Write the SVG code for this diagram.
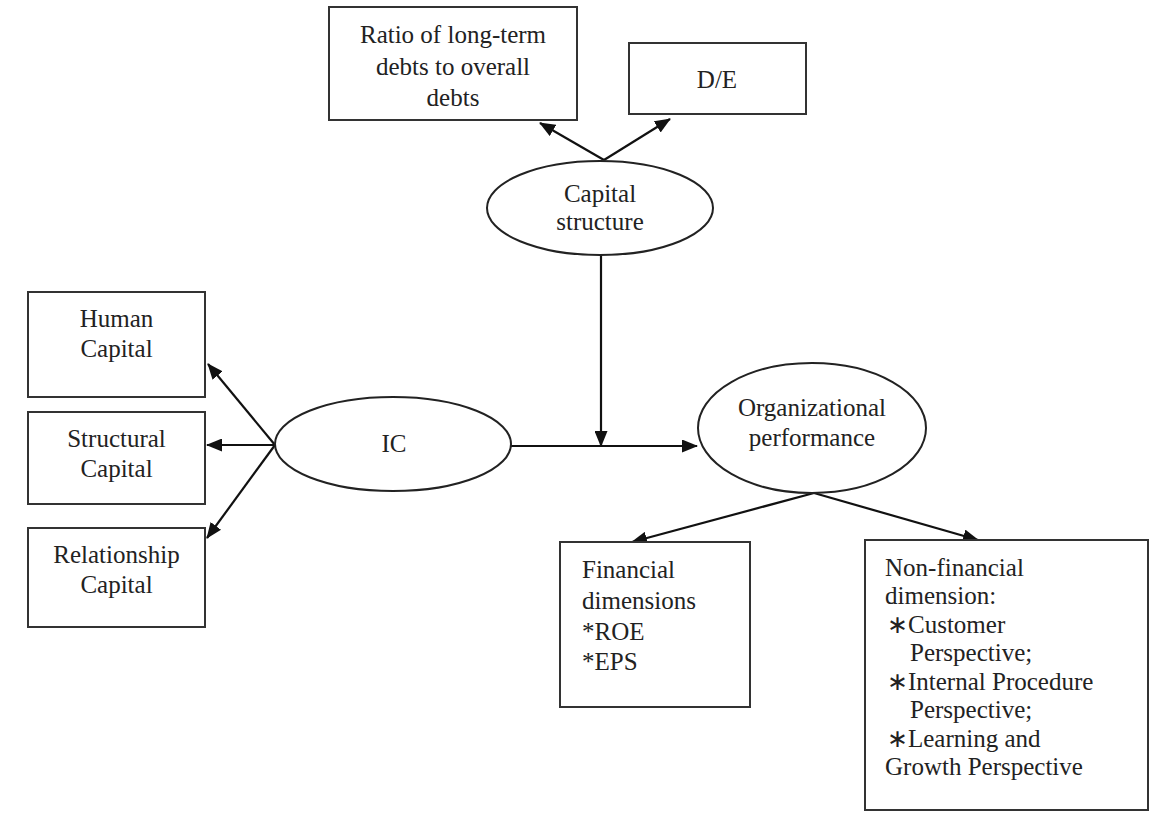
<svg xmlns="http://www.w3.org/2000/svg" width="1153" height="822" viewBox="0 0 1153 822">
<style>
.box{fill:#fff;stroke:#333;stroke-width:2}
.ell{fill:#fff;stroke:#222;stroke-width:2}
.t{font-family:"Liberation Serif","Times New Roman",serif;font-size:25px;fill:#222}
.c{text-anchor:middle}
.ln{fill:none;stroke:#111;stroke-width:2.2;marker-end:url(#ah)}
</style>
<defs>
<marker id="ah" markerUnits="userSpaceOnUse" viewBox="0 0 16 13" refX="15" refY="6.5" markerWidth="16" markerHeight="13" orient="auto">
<path d="M0,0 L16,6.5 L0,13 z" fill="#111"/>
</marker>
</defs>
<rect width="1153" height="822" fill="#fff"/>
<g id="connectors">
<line class="ln" x1="604" y1="160" x2="540" y2="123"/>
<line class="ln" x1="604" y1="160" x2="670" y2="119"/>
<line class="ln" x1="601" y1="255" x2="601" y2="446"/>
<line class="ln" x1="511" y1="446" x2="697" y2="446"/>
<line class="ln" x1="275" y1="445" x2="208" y2="364"/>
<line class="ln" x1="275" y1="445" x2="207" y2="445"/>
<line class="ln" x1="275" y1="445" x2="207" y2="538"/>
<line class="ln" x1="814" y1="493" x2="632" y2="542"/>
<line class="ln" x1="814" y1="493" x2="978" y2="540"/>
</g>
<g id="ratio">
<rect class="box" x="329" y="7" width="248" height="113"/>
<text class="t c" x="453" y="43">Ratio of long-term</text>
<text class="t c" x="453" y="75">debts to overall</text>
<text class="t c" x="453" y="106">debts</text>
</g>
<g id="de">
<rect class="box" x="629" y="43" width="177" height="71"/>
<text class="t c" x="717" y="88">D/E</text>
</g>
<g id="capital-structure">
<ellipse class="ell" cx="600" cy="208" rx="113" ry="47"/>
<text class="t c" x="600" y="202">Capital</text>
<text class="t c" x="600" y="230">structure</text>
</g>
<g id="human">
<rect class="box" x="28" y="292" width="177" height="105"/>
<text class="t c" x="116.5" y="327">Human</text>
<text class="t c" x="116.5" y="357">Capital</text>
</g>
<g id="structural">
<rect class="box" x="28" y="412" width="177" height="92"/>
<text class="t c" x="116.5" y="447">Structural</text>
<text class="t c" x="116.5" y="477">Capital</text>
</g>
<g id="relationship">
<rect class="box" x="28" y="528" width="177" height="99"/>
<text class="t c" x="116.5" y="563">Relationship</text>
<text class="t c" x="116.5" y="593">Capital</text>
</g>
<g id="ic">
<ellipse class="ell" cx="393" cy="444" rx="118" ry="47"/>
<text class="t c" x="394" y="452">IC</text>
</g>
<g id="org-performance">
<ellipse class="ell" cx="812" cy="428" rx="114" ry="65"/>
<text class="t c" x="812" y="416">Organizational</text>
<text class="t c" x="812" y="446">performance</text>
</g>
<g id="financial">
<rect class="box" x="560" y="542" width="190" height="165"/>
<text class="t" x="582" y="578">Financial</text>
<text class="t" x="582" y="609">dimensions</text>
<text class="t" x="582" y="640">*ROE</text>
<text class="t" x="582" y="670">*EPS</text>
</g>
<g id="non-financial">
<rect class="box" x="865" y="540" width="283" height="270"/>
<text class="t" x="885" y="576">Non-financial</text>
<text class="t" x="885" y="604">dimension:</text>
<text class="t" x="887" y="633">∗Customer</text>
<text class="t" x="910" y="661">Perspective;</text>
<text class="t" x="887" y="690">∗Internal Procedure</text>
<text class="t" x="910" y="718">Perspective;</text>
<text class="t" x="887" y="747">∗Learning and</text>
<text class="t" x="885" y="775">Growth Perspective</text>
</g>
</svg>
